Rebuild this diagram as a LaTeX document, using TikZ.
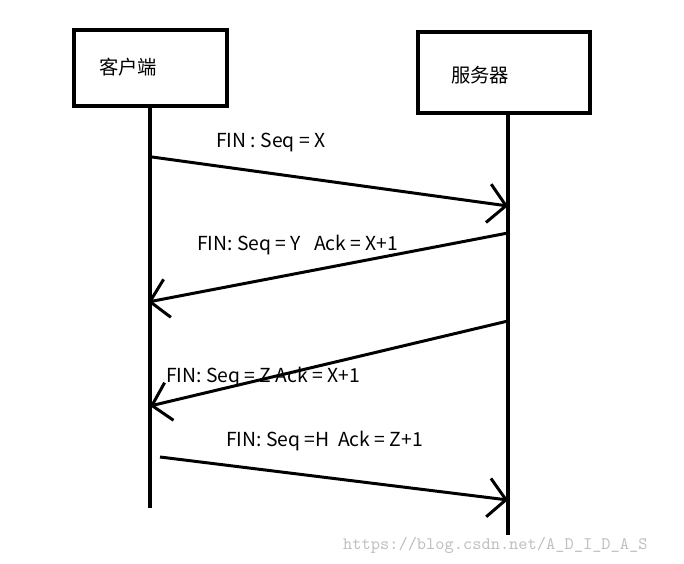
\documentclass[tikz,border=0pt]{standalone}
\usepackage{fontspec}
\setmainfont{Noto Sans CJK SC}
\usetikzlibrary{arrows.meta}
\tikzset{
    hostbox/.style={draw, line width=2.2pt, inner sep=0pt},
    lifeline/.style={line width=2pt},
    msg/.style={line width=1.7pt, -{Straight Barb[length=10pt,width=22pt,line width=1.7pt]}},
    msglabel/.style={font=\fontsize{11}{13}\selectfont}
}
\begin{document}
\begin{tikzpicture}[x=0.02cm,y=-0.02cm]
    \useasboundingbox (0,0) rectangle (684,564);
    % hosts
    \node [hostbox, minimum width=3.06cm, minimum height=1.52cm, anchor=north west] (Client) at (72,28) {};
    \node [hostbox, minimum width=3.44cm, minimum height=1.62cm, anchor=north west] (Server) at (416,30) {};
    \node [msglabel, anchor=west] (ClientText) at (93,67) {客户端};
    \node [msglabel, anchor=west] (ServerText) at (445,75) {服务器};
    % lifelines
    \coordinate (ClientTop) at (150,104);
    \coordinate (ClientBottom) at (150,508);
    \coordinate (ServerTop) at (508,111);
    \coordinate (ServerBottom) at (508,535);
    \draw [lifeline] (ClientTop) -- (ClientBottom);
    \draw [lifeline] (ServerTop) -- (ServerBottom);
    % messages
    \coordinate (MsgOneA) at (152,157);
    \coordinate (MsgOneB) at (508,206);
    \coordinate (MsgTwoA) at (508,233);
    \coordinate (MsgTwoB) at (148,302);
    \coordinate (MsgThreeA) at (508,321);
    \coordinate (MsgThreeB) at (150,406);
    \coordinate (MsgFourA) at (160,457);
    \coordinate (MsgFourB) at (508,500);
    \draw [msg] (MsgOneA) -- (MsgOneB);
    \draw [msg] (MsgTwoA) -- (MsgTwoB);
    \draw [msg] (MsgThreeA) -- (MsgThreeB);
    \draw [msg] (MsgFourA) -- (MsgFourB);
    \node [msglabel, anchor=west] (LabelOne) at (210,143) {FIN : Seq = X};
    \node [msglabel, anchor=west] (LabelTwo) at (191,245) {FIN: Seq = Y\ \ \ Ack = X+1};
    \node [msglabel, anchor=west] (LabelThree) at (160,377) {FIN: Seq = Z Ack = X+1};
    \node [msglabel, anchor=west] (LabelFour) at (220,441) {FIN: Seq =H\ \ Ack = Z+1};
    % watermark
    \node [anchor=west, text=black!25, font=\ttfamily\fontsize{10}{12}\selectfont] (Mark) at (337,545) {https://blog.csdn.net/A\_D\_I\_D\_A\_S};
\end{tikzpicture}
\end{document}
